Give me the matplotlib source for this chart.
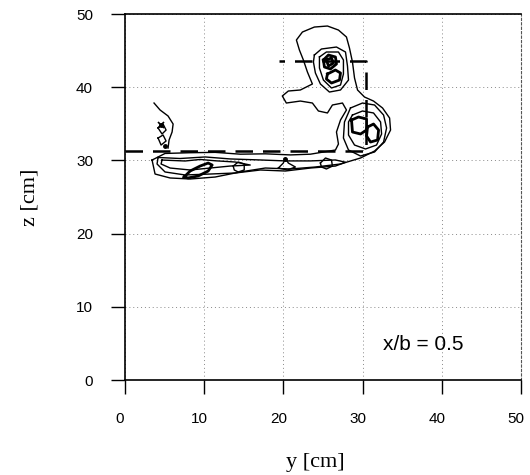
import numpy as np
from matplotlib import pyplot as plt
from matplotlib import transforms

# contour traces, (y, z) in cm
outer_y = [3.42, 3.80, 5.70, 8.23, 11.39, 14.56, 17.72, 20.89, 24.05, 27.22, 29.75, 31.52, 32.78, 33.54,
           33.42, 32.53, 31.39, 30.25, 29.37, 28.99, 28.73, 28.35, 27.97, 26.96, 25.57, 23.92, 22.41,
           21.65, 22.03, 22.53, 23.04, 23.67, 22.15, 20.63, 19.87, 20.38, 22.15, 23.67, 24.43, 25.57,
           26.20, 27.47, 27.97, 27.22, 26.71, 26.96, 26.58, 23.42, 20.89, 17.72, 14.56, 11.39, 8.23,
           5.06, 3.42]
outer_z = [30.05, 28.14, 27.60, 27.46, 27.73, 28.42, 28.96, 28.83, 29.10, 29.51, 30.33, 31.28, 32.51, 34.15,
           35.79, 37.16, 38.11, 38.66, 39.62, 41.26, 43.44, 45.36, 46.86, 47.81, 48.36, 48.22, 47.54,
           46.45, 45.08, 43.72, 42.08, 40.44, 39.62, 39.48, 38.80, 37.84, 38.11, 37.84, 36.75, 36.48,
           37.57, 37.84, 36.89, 35.52, 33.88, 32.24, 31.42, 30.85, 30.75, 30.90, 30.85, 31.10, 31.05,
           30.95, 30.05]

blob2_y = [23.92, 24.81, 26.71, 27.85, 28.10, 28.23, 27.22, 25.82, 24.68, 24.05, 23.80, 23.92]
blob2_z = [44.40, 45.22, 45.49, 44.81, 42.90, 40.98, 39.62, 39.34, 40.44, 41.94, 43.44, 44.40]
blob3_y = [24.56, 25.44, 26.96, 27.59, 27.59, 27.22, 26.08, 25.06, 24.56, 24.56]
blob3_z = [44.13, 44.81, 44.81, 43.72, 41.80, 40.30, 39.89, 40.98, 42.62, 44.13]
core1_y = [25.06, 25.70, 26.58, 26.71, 25.95, 25.19, 25.06]
core1_z = [43.72, 44.40, 44.13, 43.17, 42.49, 42.76, 43.72]
core2_y = [25.44, 26.08, 26.33, 25.70, 25.44]
core2_z = [43.72, 44.00, 43.30, 42.90, 43.72]
core3_y = [25.57, 26.58, 27.22, 27.09, 26.08, 25.44, 25.57]
core3_z = [41.80, 42.35, 41.94, 40.98, 40.57, 41.12, 41.80]

ring2_y = [28.48, 30.00, 31.52, 32.66, 33.04, 32.66, 31.52, 29.75, 28.23, 27.59, 27.72, 28.48]
ring2_z = [37.16, 37.84, 37.57, 36.20, 34.43, 32.51, 31.15, 30.60, 31.42, 33.06, 35.25, 37.16]
ring3_y = [28.73, 30.00, 31.39, 32.28, 32.41, 31.77, 30.38, 28.99, 28.23, 28.23, 28.73]
ring3_z = [36.20, 36.75, 36.48, 35.25, 33.61, 32.10, 31.56, 32.10, 33.47, 35.25, 36.20]
sq_y = [28.61, 29.49, 30.51, 30.51, 29.75, 28.73, 28.61]
sq_z = [35.52, 35.93, 35.66, 34.15, 33.61, 33.88, 35.52]
rl_y = [30.63, 31.39, 32.03, 31.90, 31.01, 30.51, 30.63]
rl_z = [34.56, 34.97, 34.15, 32.79, 32.51, 33.33, 34.56]

tail2_y = [4.18, 6.96, 10.13, 13.29, 17.09, 20.25, 23.42, 26.58, 27.85, 26.58, 23.42, 20.25, 17.09,
           13.92, 10.76, 7.59, 5.06, 4.05, 4.18]
tail2_z = [30.40, 30.26, 30.47, 30.20, 30.06, 29.93, 29.93, 30.06, 29.75, 29.23, 28.96, 28.55, 28.69,
           28.28, 28.14, 28.01, 28.42, 29.51, 30.40]
tail3_y = [4.68, 7.59, 9.49, 11.39, 13.92, 15.82, 13.29, 10.76, 8.23, 5.70, 4.56, 4.68]
tail3_z = [30.05, 29.92, 30.13, 29.95, 29.78, 29.37, 29.23, 28.96, 28.69, 28.96, 29.51, 30.05]
ell_y = [7.47, 8.23, 9.49, 10.51, 11.01, 10.51, 9.24, 7.97, 7.47]
ell_z = [27.73, 28.55, 29.23, 29.64, 29.37, 28.55, 27.87, 27.60, 27.73]
bub1_y = [13.67, 14.30, 15.06, 15.06, 14.30, 13.80, 13.67]
bub1_z = [29.23, 29.78, 29.51, 28.69, 28.42, 28.69, 29.23]
bub2_y = [24.68, 25.32, 26.08, 26.20, 25.44, 24.81, 24.68]
bub2_z = [29.64, 30.33, 30.05, 29.23, 28.83, 29.10, 29.64]
star_y = [19.37, 20.00, 20.25, 20.63, 21.52, 20.51, 19.37]
star_z = [28.96, 29.64, 30.33, 29.64, 29.10, 28.69, 28.96]

left_y = [3.67, 4.43, 5.44, 6.08, 5.95, 5.57, 5.44]
left_z = [37.84, 36.89, 36.07, 34.97, 33.88, 32.79, 31.69]
lpa_y = [4.18, 4.81, 5.19, 4.68, 4.18]
lpa_z = [34.43, 34.97, 34.15, 33.61, 34.43]
lpb_y = [4.18, 4.81, 5.19, 4.56, 4.18]
lpb_z = [33.06, 33.47, 32.65, 32.10, 33.06]

dash_y = [0, 30.5, 30.5, 19.5]
dash_z = [31.3, 31.3, 43.6, 43.6]

ticks = [0, 10, 20, 30, 40, 50]

fig = plt.figure(figsize=(5.3, 4.75), dpi=100)
ax = fig.add_axes([0.2358, 0.2, 0.747, 0.7705])

thin = dict(color='black', lw=1.0)
bold = dict(color='black', lw=2.0)
ax.plot(outer_y, outer_z, **thin)
for py, pz in [(blob2_y, blob2_z), (blob3_y, blob3_z), (ring2_y, ring2_z), (ring3_y, ring3_z),
               (tail2_y, tail2_z), (tail3_y, tail3_z), (bub1_y, bub1_z), (bub2_y, bub2_z),
               (star_y, star_z), (left_y, left_z), (lpa_y, lpa_z), (lpb_y, lpb_z)]:
    ax.plot(py, pz, **thin)
for py, pz in [(core1_y, core1_z), (core2_y, core2_z), (core3_y, core3_z),
               (sq_y, sq_z), (rl_y, rl_z), (ell_y, ell_z)]:
    ax.plot(py, pz, **bold)
ax.plot([20.25, 4.6, 5.0], [30.2, 34.9, 31.9], 'k.', ms=5)
ax.plot([4.6], [34.9], 'kx', ms=5, mew=1.2)

ax.plot(dash_y, dash_z, color='black', lw=1.8, dashes=(7, 4))

ax.text(37.7, 4.8, 'x/b = 0.5', fontsize=15, family='Liberation Sans', ha='center', va='center')

ax.set_xlim(0, 50)
ax.set_ylim(0, 50)
ax.set_xticks(ticks)
ax.set_yticks(ticks)
ax.grid(True, color='#888888', lw=0.7, ls=(0, (1, 3)))
ax.tick_params(direction='out', length=10, width=1.0, labelsize=11, pad=13)
shift = transforms.ScaledTranslation(-5 / 100, 0, fig.dpi_scale_trans)
for lab in ax.get_xticklabels():
    lab.set_family('Liberation Sans')
    lab.set_transform(lab.get_transform() + shift)
for lab in ax.get_yticklabels():
    lab.set_family('Liberation Sans')
for s in ['left', 'bottom', 'top']:
    ax.spines[s].set_linewidth(1.2)
ax.spines['right'].set_linewidth(0.8)
ax.spines['right'].set_color('#555555')
ax.spines['right'].set_linestyle((0, (2, 2)))

ax.set_xlabel('y [cm]', fontsize=16, family='Liberation Serif', labelpad=10)
ax.xaxis.set_label_coords(0.48, -0.2)
ax.set_ylabel('z [cm]', fontsize=16, family='Liberation Serif', labelpad=26)

fig.savefig('out.png', dpi=100)
